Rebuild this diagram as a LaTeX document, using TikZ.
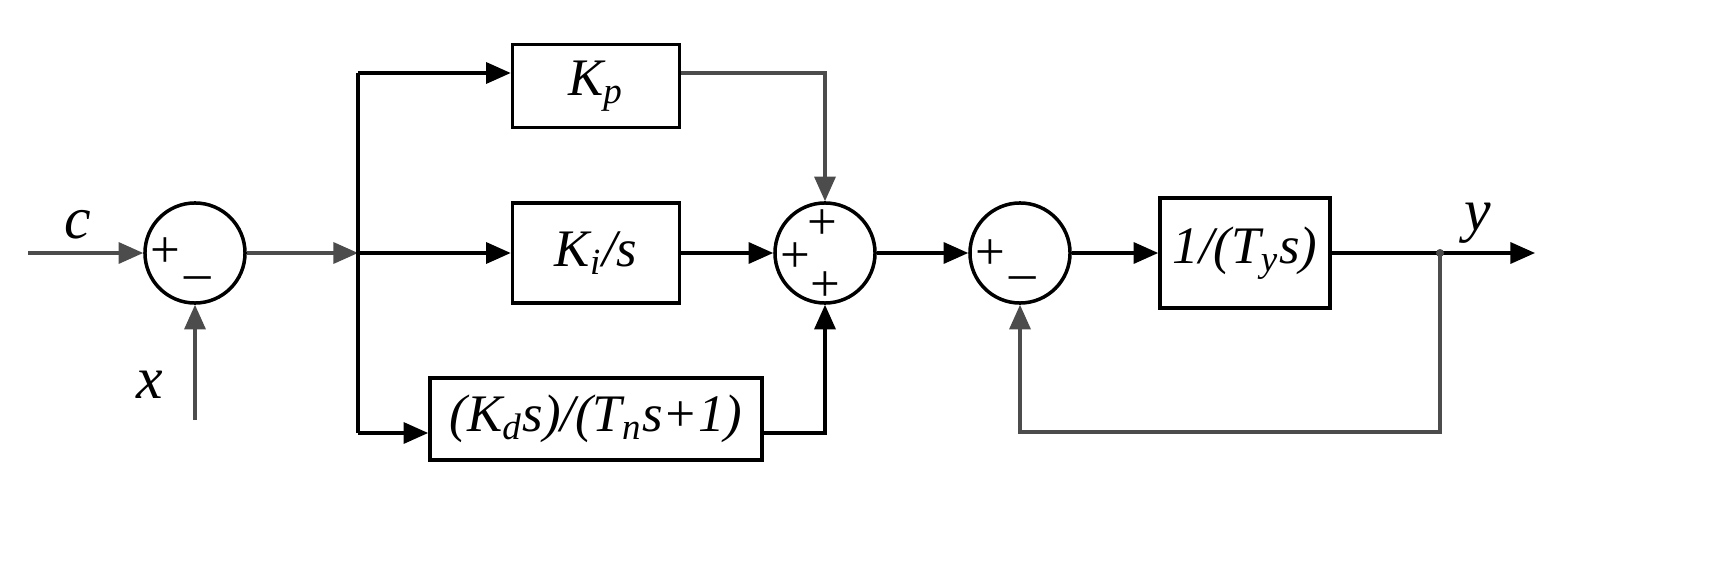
\documentclass[tikz,border=0pt]{standalone}
\usepackage{fontspec}
\setmainfont{Liberation Serif}
\usetikzlibrary{arrows.meta}
\begin{document}
\begin{tikzpicture}[x=0.01cm,y=-0.01cm,
  line width=0.9pt,
  blk/.style={draw,line width=1pt,inner sep=0pt,font=\fontsize{15}{17}\selectfont\itshape},
  sum/.style={draw,circle,line width=1pt,minimum size=1cm,inner sep=0pt},
  sg/.style={font=\fontsize{15}{17}\selectfont},
  ar/.style={-{Triangle[length=7pt,width=6pt]}},
  gr/.style={draw=black!70}]
\useasboundingbox (0,0) rectangle (1725,564);
\node[sum] (s1) at (195,253) {};
\node[sum] (s2) at (825,253) {};
\node[sum] (s3) at (1020,253) {};
\node[blk,minimum width=1.67cm,minimum height=0.83cm] (kp) at (596,86) {K\textsubscript{p}};
\node[blk,minimum width=1.67cm,minimum height=1.0cm] (ki) at (596,253) {K\textsubscript{i}/s};
\node[blk,minimum width=3.32cm,minimum height=0.82cm] (kd) at (596,419) {(K\textsubscript{d}s)/(T\textsubscript{n}s+1)};
\node[blk,minimum width=1.70cm,minimum height=1.10cm] (ty) at (1245,253) {1/(T\textsubscript{y}s)};
% signs
\node[sg] at (165,253) {+};
\node[sg] at (198,276) {\_};
\node[sg] at (822,225) {+};
\node[sg] at (795,258) {+};
\node[sg] at (825,287) {+};
\node[sg] at (990,255) {+};
\node[sg] at (1023,276) {\_};
% inputs
\coordinate (cin) at (28,253);
\coordinate (xin) at (195,420);
\coordinate (br) at (358,253);
\coordinate (bt) at (358,73);
\coordinate (bb) at (358,433);
\draw[ar,gr] (cin) -- (s1.west);
\node[font=\fontsize{17}{19}\selectfont\itshape] (cl) at (78,225) {c};
\draw[ar,gr] (xin) -- (s1.south);
\node[font=\fontsize{17}{19}\selectfont\itshape] (xl) at (150,385) {x};
\draw[ar,gr] (s1.east) -- (br);
\draw (bt) -- (bb);
\draw[ar] (bt) -- (kp.west|-bt);
\draw[ar] (br) -- (ki.west);
\draw[ar] (bb) -- (kd.west|-bb);
\draw[ar,gr] (kp.east|-bt) -| (s2.north);
\draw[ar] (ki.east) -- (s2.west);
\draw[ar] (kd.east|-bb) -| (s2.south);
\draw[ar] (s2.east) -- (s3.west);
\draw[ar] (s3.east) -- (ty.west);
\coordinate (dot) at (1440,253);
\coordinate (out) at (1535,253);
\draw[ar] (ty.east) -- (out);
\fill[black!70] (dot) circle (4);
\node[font=\fontsize{17}{19}\selectfont\itshape] (yl) at (1478,223) {y};
\draw[ar,gr] (dot) -- (1440,432) -| (s3.south);
\end{tikzpicture}
\end{document}
